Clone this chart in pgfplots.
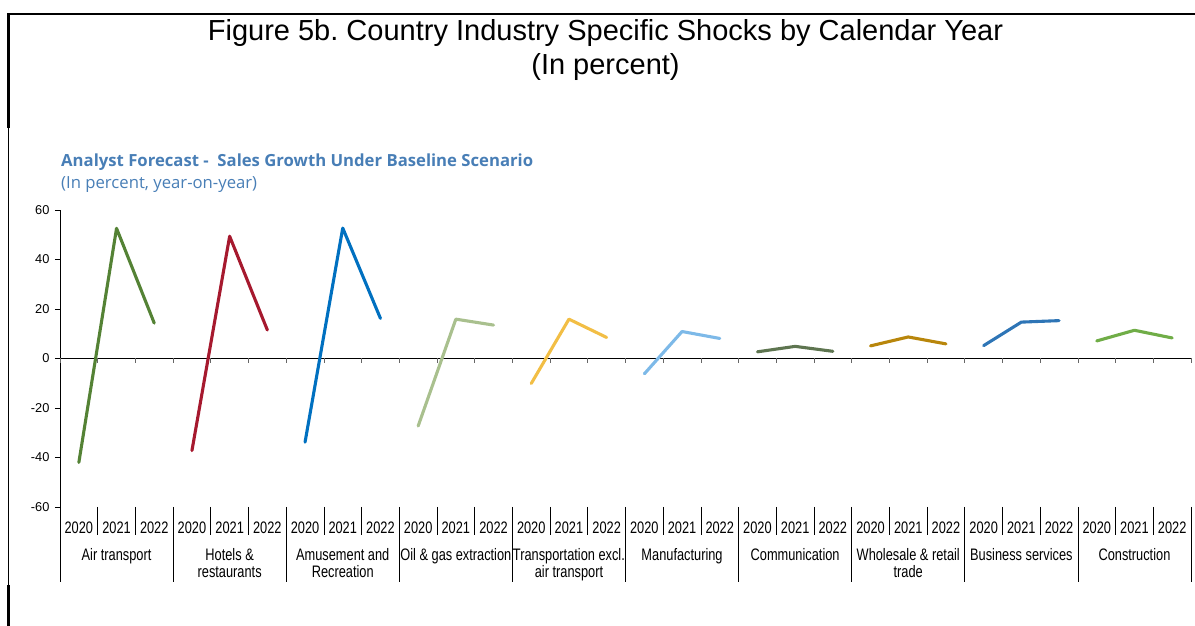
\documentclass[border=0pt]{standalone}
\usepackage{pgfplots}
\pgfplotsset{compat=1.18}
\usepackage{fontspec}
\setmainfont{Liberation Sans}
\newfontfamily\segoe{Open Sans}
\frenchspacing

\definecolor{airc}{RGB}{84,130,53}
\definecolor{hotc}{RGB}{166,25,46}
\definecolor{amuc}{RGB}{0,112,192}
\definecolor{oilc}{RGB}{169,192,142}
\definecolor{trac}{RGB}{242,190,69}
\definecolor{manc}{RGB}{125,185,232}
\definecolor{comc}{RGB}{94,117,80}
\definecolor{whoc}{RGB}{184,134,11}
\definecolor{busc}{RGB}{46,117,182}
\definecolor{conc}{RGB}{112,173,71}
\definecolor{subc}{RGB}{72,126,182}

\begin{document}
\begin{tikzpicture}
\useasboundingbox (0pt,0pt) rectangle (1195pt,626pt);
% frame
\draw[line width=2.7pt] (8.7pt,498pt) -- (8.7pt,612pt) -- (1195pt,612pt);
\draw[line width=0.8pt] (8.3pt,498pt) -- (8.3pt,41pt);
\draw[line width=2.7pt] (8.7pt,41pt) -- (8.7pt,0pt);

% titles
\node[font=\fontsize{29}{33}\selectfont] at (605.5pt,593pt) {Figure 5b. Country Industry Specific Shocks by Calendar Year};
\node[font=\fontsize{29}{33}\selectfont] at (605.5pt,559pt) {(In percent)};
\node[anchor=base west, inner sep=0pt, text=subc, font=\segoe\bfseries\fontsize{16.7}{20}\selectfont] at (61pt,459pt) {Analyst Forecast -\ \ Sales Growth Under Baseline Scenario};
\node[anchor=base west, inner sep=0pt, text=subc, font=\segoe\fontsize{16.7}{20}\selectfont] at (61pt,437pt) {(In percent, year-on-year)};

\begin{axis}[
  at={(60pt,119pt)}, anchor=south west,
  scale only axis, width=1131pt, height=297pt,
  xmin=0, xmax=30, ymin=-60, ymax=60,
  axis x line*=middle, axis y line*=left,
  xtick=\empty,
  ytick={-60,-40,...,60},
  yticklabels={-60,-40,-20,0,20,40,60},
  ytick align=outside, major tick length=5pt,
  every tick/.style={black, line width=0.8pt},
  yticklabel style={font=\fontsize{12.8}{14}\selectfont, xshift=-2pt},
  axis line style={black, line width=0.9pt},
  clip=false,
  every axis plot/.append style={line width=3.1pt, line cap=round, line join=round, mark=none},
]
\addplot[airc] coordinates {(0.5,-42.0) (1.5,52.6) (2.5,14.3)};
\addplot[hotc] coordinates {(3.5,-37.2) (4.5,49.4) (5.5,11.5)};
\addplot[amuc] coordinates {(6.5,-33.8) (7.5,52.7) (8.5,16.2)};
\addplot[oilc] coordinates {(9.5,-27.3) (10.5,15.9) (11.5,13.5)};
\addplot[trac] coordinates {(12.5,-10.1) (13.5,15.9) (14.5,8.5)};
\addplot[manc] coordinates {(15.5,-6.2) (16.5,10.9) (17.5,8.1)};
\addplot[comc] coordinates {(18.5,2.7) (19.5,4.9) (20.5,2.9)};
\addplot[whoc] coordinates {(21.5,5.1) (22.5,8.7) (23.5,5.9)};
\addplot[busc] coordinates {(24.5,5.2) (25.5,14.7) (26.5,15.3)};
\addplot[conc] coordinates {(27.5,7.1) (28.5,11.4) (29.5,8.3)};

% ticks on the zero line
\pgfplotsinvokeforeach{0,...,30}{
  \draw[black!60, line width=0.8pt] (axis cs:#1,0) -- ++(0pt,-4.5pt);
}
% separators below the axis
\pgfplotsinvokeforeach{1,2,4,5,7,8,10,11,13,14,16,17,19,20,22,23,25,26,28,29}{
  \draw[black, line width=0.8pt] (axis cs:#1,-60) -- ++(0pt,-28pt);
}
\pgfplotsinvokeforeach{0,3,6,9,12,15,18,21,24,27,30}{
  \draw[black, line width=0.8pt] (axis cs:#1,-60) -- ++(0pt,-75pt);
}
% year labels (the shift is scaled with the node)
\tikzset{yrlab/.style={anchor=base, inner sep=0pt, yscale=1.3, transform shape, font=\fontsize{12.8}{14}\selectfont}}
\pgfplotsinvokeforeach{0.5,3.5,6.5,9.5,12.5,15.5,18.5,21.5,24.5,27.5}{
  \node[yrlab] at (axis cs:#1,-60) [yshift=-20.5pt] {2020};
}
\pgfplotsinvokeforeach{1.5,4.5,7.5,10.5,13.5,16.5,19.5,22.5,25.5,28.5}{
  \node[yrlab] at (axis cs:#1,-60) [yshift=-20.5pt] {2021};
}
\pgfplotsinvokeforeach{2.5,5.5,8.5,11.5,14.5,17.5,20.5,23.5,26.5,29.5}{
  \node[yrlab] at (axis cs:#1,-60) [yshift=-20.5pt] {2022};
}
% industry labels
\tikzset{catlab/.style={anchor=base, align=center, inner sep=0pt, yscale=1.3, transform shape, font=\fontsize{12.8}{13.3}\selectfont}}
\node[catlab] at (axis cs:1.5,-60) [yshift=-40.8pt] {Air transport};
\node[catlab] at (axis cs:4.5,-60) [yshift=-54.1pt] {Hotels \&\\restaurants};
\node[catlab] at (axis cs:7.5,-60) [yshift=-54.1pt] {Amusement and\\Recreation};
\node[catlab] at (axis cs:10.5,-60) [yshift=-40.8pt] {Oil \& gas extraction};
\node[catlab] at (axis cs:13.5,-60) [yshift=-54.1pt] {Transportation excl.\\air transport};
\node[catlab] at (axis cs:16.5,-60) [yshift=-40.8pt] {Manufacturing};
\node[catlab] at (axis cs:19.5,-60) [yshift=-40.8pt] {Communication};
\node[catlab] at (axis cs:22.5,-60) [yshift=-54.1pt] {Wholesale \& retail\\trade};
\node[catlab] at (axis cs:25.5,-60) [yshift=-40.8pt] {Business services};
\node[catlab] at (axis cs:28.5,-60) [yshift=-40.8pt] {Construction};
\end{axis}
\end{tikzpicture}
\end{document}
